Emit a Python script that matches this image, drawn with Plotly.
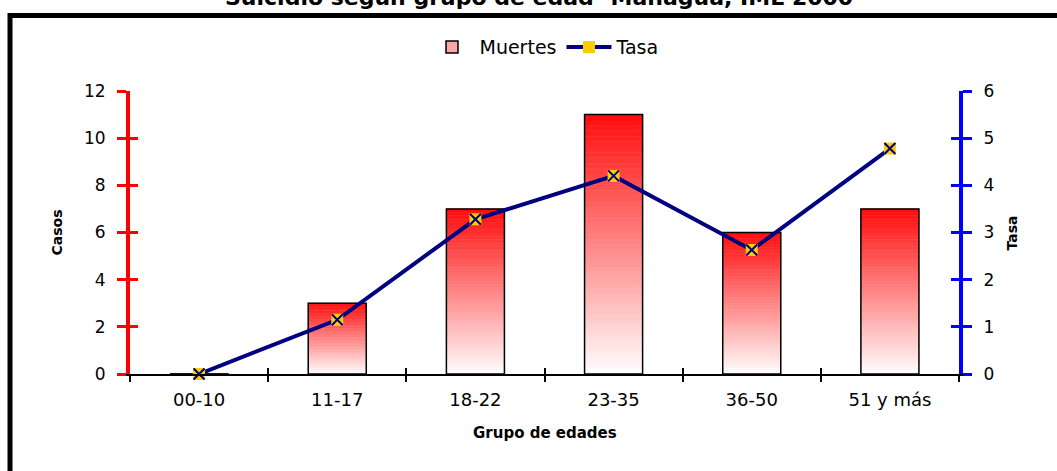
import plotly.graph_objects as go

# ---- data ----
categorias = ['00-10', '11-17', '18-22', '23-35', '36-50', '51 y más']
muertes = [0, 3, 7, 11, 6, 7]
tasa = [0, 1.15, 3.28, 4.2, 2.63, 4.78]
ticks_casos = [0, 2, 4, 6, 8, 10, 12]
ticks_tasa = [0, 1, 2, 3, 4, 5, 6]

titulo = 'Suicidio según grupo de edad -Managua, IML 2000'
eje_x = 'Grupo de edades'
eje_y1 = 'Casos'
eje_y2 = 'Tasa'

FONT = 'DejaVu Sans, Liberation Sans, Arial, sans-serif'
NAVY = '#000080'
GOLD = '#FFCC00'
N_SEG = 48
BAR_W = 0.42

fig = go.Figure()

# gradient bars: each bar split into N_SEG overlaid segments (white bottom -> red top)
for k in range(N_SEG):
    f = (k + 0.5) / N_SEG
    g = int(round(255 - f * (255 - 12)))
    col = f'rgb(255,{g},{g})'
    fig.add_trace(go.Bar(
        x=categorias,
        y=[v / N_SEG for v in muertes],
        base=[v * k / N_SEG for v in muertes],
        width=BAR_W,
        marker=dict(color=col, line=dict(color=col, width=0.6)),
        showlegend=False, hoverinfo='skip'))

# bar outline
fig.add_trace(go.Bar(
    x=categorias, y=muertes, width=BAR_W,
    marker=dict(color='rgba(0,0,0,0)', line=dict(color='black', width=1.5)),
    showlegend=False, hoverinfo='skip'))

# legend-only entry for bars
fig.add_trace(go.Bar(
    x=[None], y=[None], name='Muertes',
    marker=dict(color='rgb(255,165,165)', line=dict(color='black', width=1.5))))

# rate line
fig.add_trace(go.Scatter(
    x=categorias, y=tasa, name='Tasa', yaxis='y2', mode='lines+markers',
    line=dict(color=NAVY, width=4),
    marker=dict(symbol='square', size=12, color=GOLD, line=dict(width=0)),
    cliponaxis=False))
fig.add_trace(go.Scatter(
    x=categorias, y=tasa, yaxis='y2', mode='markers',
    marker=dict(symbol='x-thin', size=11, line=dict(color=NAVY, width=2)),
    showlegend=False, hoverinfo='skip', cliponaxis=False))

# invisible helpers so that the cross-tick axes exist
fig.add_trace(go.Scatter(x=categorias, y=muertes, xaxis='x2', yaxis='y4', mode='markers',
                         marker=dict(opacity=0), showlegend=False, hoverinfo='skip'))
fig.add_trace(go.Scatter(x=categorias, y=tasa, xaxis='x2', yaxis='y5', mode='markers',
                         marker=dict(opacity=0), showlegend=False, hoverinfo='skip'))

fig.update_layout(
    width=1057, height=471, autosize=False,
    margin=dict(l=130, r=98, t=91, b=97),
    paper_bgcolor='white', plot_bgcolor='white',
    barmode='overlay',
    font=dict(family=FONT, color='black'),
    showlegend=True,
    legend=dict(orientation='h', x=0.5, xanchor='center', y=1.155, yanchor='middle',
                font=dict(size=19, family=FONT), itemwidth=45, bgcolor='rgba(0,0,0,0)',
                traceorder='normal'),
    xaxis=dict(type='category', categoryorder='array', categoryarray=categorias,
               range=[-0.5, 5.5], showline=True, linecolor='black', linewidth=1.5,
               ticks='outside', tickson='boundaries', ticklen=6, tickwidth=1.5,
               tickcolor='black', showgrid=False, zeroline=False,
               tickfont=dict(size=18), ticklabelstandoff=9),
    xaxis2=dict(type='category', categoryorder='array', categoryarray=categorias,
                range=[-0.5, 5.5], overlaying='x', anchor='y', side='bottom',
                showline=False, ticks='inside', tickson='boundaries', ticklen=6,
                tickwidth=1.5, tickcolor='black', showticklabels=False,
                showgrid=False, zeroline=False),
    yaxis=dict(range=[0, 12], tickvals=ticks_casos, showline=True, linecolor='#FF0000',
               linewidth=4, ticks='outside', ticklen=9, tickwidth=3, tickcolor='#FF0000',
               showgrid=False, zeroline=False, tickfont=dict(size=17),
               ticklabelstandoff=8),
    yaxis2=dict(range=[0, 6], tickvals=ticks_tasa, overlaying='y', side='right',
                anchor='x', showline=True, linecolor='#0000FF', linewidth=4,
                ticks='outside', ticklen=9, tickwidth=3, tickcolor='#0000FF',
                showgrid=False, zeroline=False, tickfont=dict(size=17),
                ticklabelstandoff=8),
    yaxis4=dict(range=[0, 12], tickvals=ticks_casos, overlaying='y', side='left',
                anchor='x', showline=False, ticks='inside', ticklen=8, tickwidth=3,
                tickcolor='#FF0000', showticklabels=False, showgrid=False, zeroline=False),
    yaxis5=dict(range=[0, 6], tickvals=ticks_tasa, overlaying='y', side='right',
                anchor='x', showline=False, ticks='inside', ticklen=8, tickwidth=3,
                tickcolor='#0000FF', showticklabels=False, showgrid=False, zeroline=False),
    shapes=[dict(type='rect', xref='paper', yref='paper',
                 x0=-0.14475, x1=1.25, y0=-0.6, y1=1.2668,
                 line=dict(color='black', width=5), fillcolor='rgba(0,0,0,0)',
                 layer='below')],
    annotations=[
        dict(text='<b>' + titulo + '</b>', xref='paper', yref='paper', x=0.4934, y=1.2792,
             xanchor='center', yanchor='bottom', showarrow=False,
             font=dict(size=22, family=FONT, color='black')),
        dict(text='<b>' + eje_x + '</b>', xref='paper', yref='paper', x=0.5006, y=-0.2085,
             xanchor='center', yanchor='middle', showarrow=False,
             font=dict(size=15, family=FONT, color='black')),
        dict(text='<b>' + eje_y1 + '</b>', xref='paper', yref='paper', x=-0.0881, y=0.5,
             xanchor='center', yanchor='middle', textangle=-90, showarrow=False,
             font=dict(size=14, family=FONT, color='black')),
        dict(text='<b>' + eje_y2 + '</b>', xref='paper', yref='paper', x=1.0639, y=0.5,
             xanchor='center', yanchor='middle', textangle=-90, showarrow=False,
             font=dict(size=14, family=FONT, color='black')),
    ],
)

fig.write_html('out.html', config={'displayModeBar': False},
               post_script="document.body.style.margin='0px';document.body.style.overflow='hidden';")
